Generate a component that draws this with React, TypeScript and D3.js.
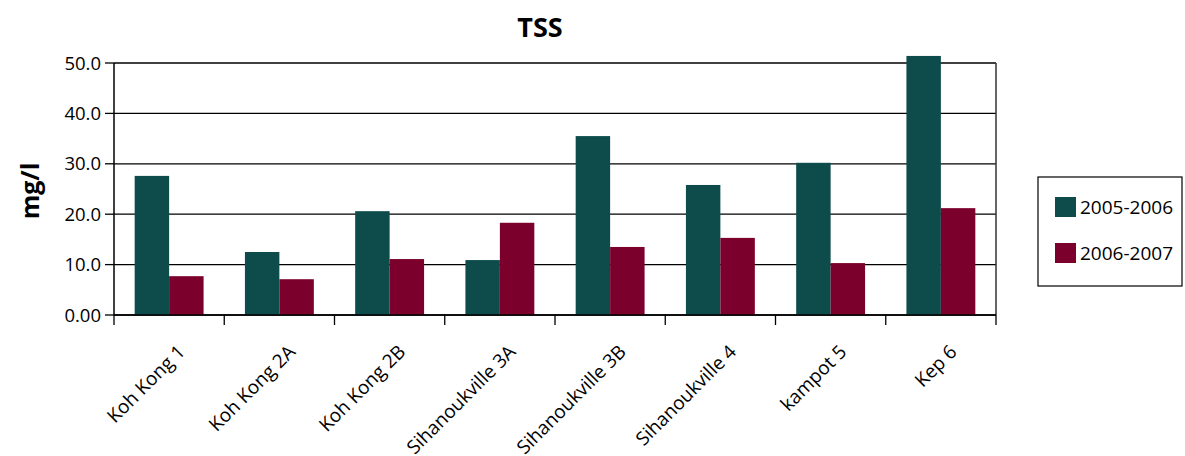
import React from "react";
import * as d3 from "d3";

const categories = [
  "Koh Kong 1",
  "Koh Kong 2A",
  "Koh Kong 2B",
  "Sihanoukville 3A",
  "Sihanoukville 3B",
  "Sihanoukville 4",
  "kampot 5",
  "Kep 6",
];
const series2005 = [27.6, 12.5, 20.6, 10.9, 35.5, 25.8, 30.2, 51.4];
const series2006 = [7.7, 7.1, 11.1, 18.3, 13.5, 15.3, 10.3, 21.2];
const seriesNames = ["2005-2006", "2006-2007"];
const seriesColors = ["#0e4c4c", "#7b002b"];
const yTicks = [0, 10, 20, 30, 40, 50];
const yTickLabels = ["0.00", "10.0", "20.0", "30.0", "40.0", "50.0"];

const W = 1185;
const H = 456;
const FONT = "'Open Sans', 'Noto Sans', sans-serif";

export default function App() {
  const left = 114;
  const right = 996;
  const top = 63;
  const bottom = 315;

  const x = d3.scaleBand<string>().domain(categories).range([left, right]).padding(0);
  const sub = d3
    .scaleBand<string>()
    .domain(seriesNames)
    .range([0, x.bandwidth()])
    .paddingInner(0)
    .paddingOuter(0.6);
  const y = d3.scaleLinear().domain([0, 50]).range([bottom, top]);

  const data = [series2005, series2006];

  return (
    <svg
      width={W}
      height={H}
      style={{ position: "absolute", left: 0, top: 0, background: "#fff" }}
      fontFamily={FONT}
    >
      {/* title */}
      <text x={540} y={37} textAnchor="middle" fontSize={27} fontWeight="bold" fill="#000">
        TSS
      </text>

      {/* y axis label */}
      <text
        transform={`translate(39, 191) rotate(-90)`}
        textAnchor="middle"
        fontSize={25}
        fontWeight="bold"
        fill="#000"
      >
        mg/l
      </text>

      {/* gridlines */}
      {yTicks.map((t) => (
        <line
          key={"g" + t}
          x1={left}
          x2={right}
          y1={y(t)}
          y2={y(t)}
          stroke="#000"
          strokeWidth={1.3}
        />
      ))}

      {/* right border */}
      <line x1={right} x2={right} y1={y(50)} y2={bottom} stroke="#333" strokeWidth={1.5} />

      {/* bars */}
      {data.map((vals, si) =>
        vals.map((v, ci) => (
          <rect
            key={`b${si}-${ci}`}
            x={(x(categories[ci]) as number) + (sub(seriesNames[si]) as number)}
            y={y(v)}
            width={sub.bandwidth()}
            height={y(0) - y(v)}
            fill={seriesColors[si]}
          />
        ))
      )}

      {/* axes */}
      <line x1={left} x2={left} y1={y(50)} y2={bottom} stroke="#000" strokeWidth={1.5} />
      <line x1={left} x2={right} y1={bottom} y2={bottom} stroke="#000" strokeWidth={1.5} />

      {/* y ticks */}
      {yTicks.map((t, i) => (
        <g key={"yt" + t}>
          <line x1={left - 9} x2={left} y1={y(t)} y2={y(t)} stroke="#000" strokeWidth={1.3} />
          <text
            x={101}
            y={y(t)}
            dy="0.36em"
            textAnchor="end"
            fontSize={18.5}
            fill="#000"
          >
            {yTickLabels[i]}
          </text>
        </g>
      ))}

      {/* x ticks */}
      {[...categories.map((c) => x(c) as number), right].map((px, i) => (
        <line key={"xt" + i} x1={px} x2={px} y1={bottom} y2={bottom + 10} stroke="#000" strokeWidth={1.3} />
      ))}

      {/* x labels */}
      {categories.map((c) => {
        const cx = (x(c) as number) + x.bandwidth() / 2;
        const ax = cx + 17;
        const ay = 353;
        return (
          <text
            key={"xl" + c}
            transform={`translate(${ax}, ${ay}) rotate(-45)`}
            textAnchor="end"
            fontSize={19}
            fill="#000"
          >
            {c}
          </text>
        );
      })}

      {/* legend */}
      <rect x={1038} y={177} width={144} height={109} fill="#fff" stroke="#000" strokeWidth={1.2} />
      {seriesNames.map((s, i) => (
        <g key={"lg" + s}>
          <rect x={1055} y={197 + i * 46} width={21} height={20} fill={seriesColors[i]} />
          <text x={1080} y={207 + i * 46} dy="0.36em" fontSize={19} fill="#000">
            {s}
          </text>
        </g>
      ))}
    </svg>
  );
}
